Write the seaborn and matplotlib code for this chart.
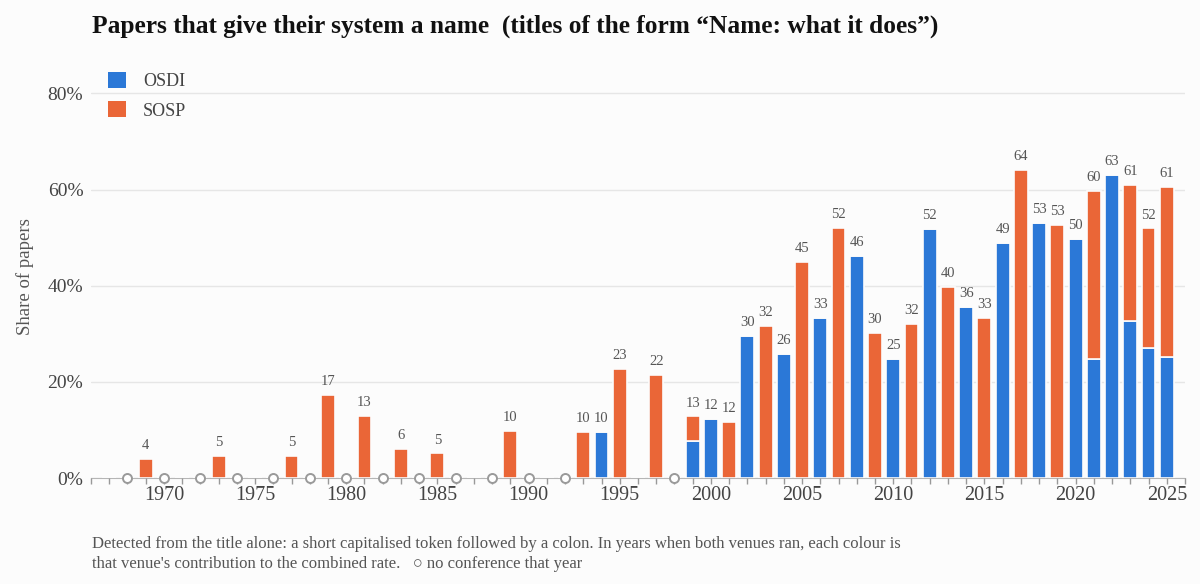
import matplotlib
matplotlib.use('Agg')
import matplotlib.pyplot as plt
from matplotlib.patches import Patch
from matplotlib.ticker import MultipleLocator, FuncFormatter
import seaborn as sns
import pandas as pd
import numpy as np

# share of papers (%) with a "Name: what it does" title, per venue and year
sosp_years = [1967, 1969, 1971, 1973, 1975, 1977, 1979, 1981, 1983, 1985, 1987, 1989,
              1991, 1993, 1995, 1997, 1999, 2001, 2003, 2005, 2007, 2009, 2011, 2013,
              2015, 2017, 2019, 2021, 2023, 2024, 2025]
sosp_share = [0.0, 4.0, 0.0, 4.6, 0.0, 4.6, 17.2, 12.9, 6.1, 5.1, 0.0, 9.8,
              0.0, 9.5, 22.6, 21.5, 5.1, 11.7, 31.7, 45.0, 52.0, 30.2, 32.1, 39.8,
              33.3, 64.0, 52.6, 35.1, 28.4, 24.9, 35.4]

osdi_years = [1994, 1996, 1999, 2000, 2002, 2004, 2006, 2008, 2010, 2012, 2014, 2016,
              2018, 2020, 2021, 2022, 2023, 2024, 2025]
osdi_share = [9.5, 0.0, 7.7, 12.3, 29.6, 25.8, 33.3, 46.2, 24.8, 51.8, 35.5, 48.8,
              53.1, 49.8, 24.7, 63.0, 32.6, 27.0, 25.2]

venues = ['OSDI', 'SOSP']
venue_colors = {'OSDI': '#2b78d7', 'SOSP': '#ea6637'}

title = 'Papers that give their system a name  (titles of the form \u201cName: what it does\u201d)'
note = ("Detected from the title alone: a short capitalised token followed by a colon. "
        "In years when both venues ran, each colour is\n"
        "that venue's contribution to the combined rate.   \u25cb no conference that year")

df = pd.concat([
    pd.DataFrame({'year': osdi_years, 'share': osdi_share, 'venue': 'OSDI'}),
    pd.DataFrame({'year': sosp_years, 'share': sosp_share, 'venue': 'SOSP'}),
], ignore_index=True)

all_years = np.arange(1967, 2026)
no_conf = [y for y in all_years if y not in osdi_years and y not in sosp_years]
totals = df.groupby('year')['share'].sum()

sns.set_style('white')
plt.rcParams['font.family'] = ['Liberation Serif', 'DejaVu Serif']
bg = '#fcfcfc'

fig = plt.figure(figsize=(12, 5.84), dpi=100, facecolor=bg)
ax = fig.add_axes([0.0758, 0.1815, 0.9117, 0.6915], facecolor=bg)

# OSDI sits at the bottom of the stack, SOSP on top
sns.histplot(data=df, x='year', weights='share', hue='venue', hue_order=venues[::-1],
             multiple='stack', discrete=True, shrink=0.76, palette=venue_colors,
             alpha=1, edgecolor=bg, linewidth=1.2, legend=False, ax=ax)

sns.scatterplot(x=no_conf, y=[0] * len(no_conf), s=42, facecolor='white',
                edgecolor='#9a9a9a', linewidth=1.4, clip_on=False, zorder=5, ax=ax)

for yr, tot in totals.items():
    if tot > 0:
        ax.annotate(f'{tot:.0f}', (yr, tot), xytext=(0, 5), textcoords='offset points',
                    ha='center', va='bottom', fontsize=10.5, color='#555555')

ax.set_xlim(1966, 2026)
ax.set_ylim(0, 84)
ax.xaxis.set_major_locator(MultipleLocator(5))
ax.xaxis.set_minor_locator(MultipleLocator(1))
ax.set_yticks([0, 20, 40, 60, 80])
ax.yaxis.set_major_formatter(FuncFormatter(lambda v, p: f'{v:.0f}%'))
ax.tick_params(axis='x', which='both', bottom=True, length=4, width=1, color='#999999',
               labelsize=14.5, labelcolor='#444444', pad=2)
ax.tick_params(axis='y', left=False, labelsize=14, labelcolor='#444444', pad=2)
ax.yaxis.grid(True, color='#e6e6e6', linewidth=1)
ax.set_axisbelow(True)
for s in ['left', 'right', 'top']:
    ax.spines[s].set_visible(False)
ax.spines['bottom'].set_color('#b5b5b5')
ax.spines['bottom'].set_zorder(0.5)
ax.set_xlabel('')
ax.set_ylabel('Share of papers', fontsize=13.5, color='#555555', labelpad=10)

handles = [Patch(facecolor=venue_colors[v], edgecolor='none') for v in venues]
ax.legend(handles, venues, loc='upper left', bbox_to_anchor=(0.0155, 1.005), frameon=False,
          fontsize=13, handlelength=1.0, handleheight=1.0, handletextpad=0.95,
          labelspacing=0.6, borderpad=0, borderaxespad=0, labelcolor='#444444')

fig.text(0.0765, 0.944, title, fontsize=18.3, fontweight='bold', color='#111111',
         ha='left', va='baseline')
fig.text(0.0765, 0.028, note, fontsize=12, color='#555555', ha='left', va='baseline',
         linespacing=1.3)

fig.savefig('out.png', dpi=100, facecolor=bg)
